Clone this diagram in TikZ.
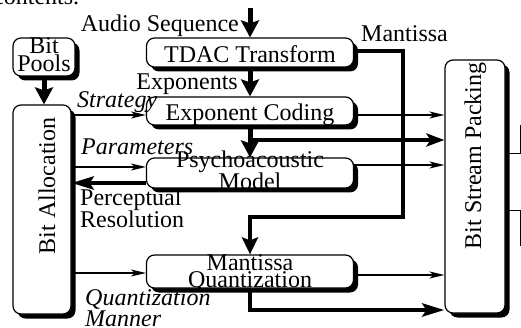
\documentclass[tikz,border=0pt]{standalone}
\usepackage{fontspec}
\setmainfont{Liberation Serif}
\usetikzlibrary{arrows.meta,shadows,calc}
\begin{document}
\begin{tikzpicture}[x=1pt,y=-1pt,
  box/.style={draw, line width=1.2pt, rounded corners=8pt, fill=white, inner sep=0pt,
     drop shadow={shadow xshift=4.5pt, shadow yshift=-4.5pt, fill=black, opacity=1}},
  lbl/.style={font=\fontsize{24}{18}\selectfont, inner sep=0pt},
  ilbl/.style={inner sep=0pt, font=\fontsize{24}{18}\selectfont\itshape},
  thinarr/.style={line width=1.2pt, -{Stealth[length=15pt,width=7pt,inset=4pt]}},
  thickarr/.style={line width=4.5pt, -{Stealth[length=18pt,width=13pt,inset=4pt]}},
  bigarr/.style={line width=5pt, -{Stealth[length=17pt,width=18pt,inset=3pt]}},
  frag/.style={line width=0.8pt}]
\useasboundingbox (0,0) rectangle (521,328);
% boxes
\node[box, minimum width=207pt, minimum height=29pt] (tdac) at (250,52.5) {};
\node[box, minimum width=207pt, minimum height=28pt] (ec) at (250,111) {};
\node[box, minimum width=207pt, minimum height=30pt] (psy) at (250,173) {};
\node[box, minimum width=207pt, minimum height=33pt] (mq) at (250,271.5) {};
\node[box, minimum width=62pt, minimum height=38pt] (pools) at (44,57) {};
\node[box, minimum width=58pt, minimum height=209pt] (ba) at (42,209.5) {};
\node[box, minimum width=60pt, minimum height=253pt] (bsp) at (475,186.5) {};
% levels
\coordinate (audioin) at (250,8);
\coordinate (lv115) at (0,115);
\coordinate (lv140) at (0,140);
\coordinate (lv165) at (0,165);
\coordinate (lv167) at (0,167);
\coordinate (lv183) at (0,183);
\coordinate (lv273) at (0,273);
\coordinate (lv275) at (0,275);
\coordinate (lv310) at (0,310);
\coordinate (expbr) at (250,140);
\coordinate (mc1) at (403,51);
\coordinate (mc2) at (403,217);
% connectors
\draw[bigarr] (audioin) -- (tdac.north);
\draw[bigarr] (tdac.south) -- (ec.north);
\draw[bigarr] (ec.south) -- (psy.north);
\draw[bigarr] (pools.south) -- (pools.south |- ba.north);
\draw[thickarr] (expbr) -- (bsp.west |- lv140);
\draw[thinarr] (ec.east |- lv115) -- (bsp.west |- lv115);
\draw[thinarr] (psy.east |- lv165) -- (bsp.west |- lv165);
\draw[thinarr] (mq.east |- lv275) -- (bsp.west |- lv275);
\draw[thinarr] (ba.east |- lv115) -- (ec.west |- lv115);
\draw[thinarr] (ba.east |- lv167) -- (psy.west |- lv167);
\draw[thinarr] (ba.east |- lv273) -- (mq.west |- lv273);
\draw[thickarr, -{Stealth[length=22pt,width=13pt,inset=4pt]}] (psy.west |- lv183) -- (ba.east |- lv183);
\draw[thickarr, line join=miter, -{Stealth[length=22pt,width=13pt,inset=4pt]}] (mq.south) -- (mq.south |- lv310) -- (bsp.west |- lv310);
\draw[thickarr, line join=miter, -{Stealth[length=17pt,width=16pt,inset=3pt]}] (tdac.east |- mc1) -- (mc1) -- (mc2) -- (mc2 -| mq.north) -- (mq.north);
% cropped fragments on the right edge
\draw[frag] (bsp.east |- 0,153) -- (520,153) -- (520,125);
\draw[frag] (bsp.east |- 0,210) -- (520,210) -- (520,246);
% texts
\node[lbl, anchor=base west] (contents) at (-7,5) {contents.};
\node[lbl, anchor=base] (tdact) at (250,63) {TDAC Transform};
\node[lbl, anchor=base] (ect) at (250,121) {Exponent Coding};
\node[lbl, anchor=base, align=center, font=\fontsize{24}{17}\selectfont] (psyt) at (250,190) {Psychoacoustic\\Model};
\node[lbl, anchor=base, align=center, font=\fontsize{24}{16.5}\selectfont] (mqt) at (250,287) {Mantissa\\Quantization};
\node[lbl, anchor=base, align=center, font=\fontsize{24}{18}\selectfont] (poolst) at (44,72) {Bit\\Pools};
\node[lbl, anchor=base, rotate=90] (bat) at (55,186) {Bit Allocation};
\node[lbl, anchor=base, rotate=90] (bspt) at (481,156) {Bit Stream Packing};
\node[lbl, anchor=base east] (audiot) at (239,32) {Audio Sequence};
\node[lbl, anchor=base west] (mantt) at (361,42) {Mantissa};
\node[lbl, anchor=base east] (expt) at (238,90) {Exponents};
\node[ilbl, anchor=base west] (stratt) at (77,108) {Strategy};
\node[ilbl, anchor=base west] (paramt) at (81,155) {Parameters};
\node[lbl, anchor=base west, align=left, font=\fontsize{24}{20}\selectfont] (perct) at (80,228) {Perceptual\\Resolution};
\node[ilbl, anchor=base west, align=left, font=\fontsize{24}{17.5}\selectfont\itshape] (qmt) at (85,326) {Quantization\\Manner};
\end{tikzpicture}
\end{document}
